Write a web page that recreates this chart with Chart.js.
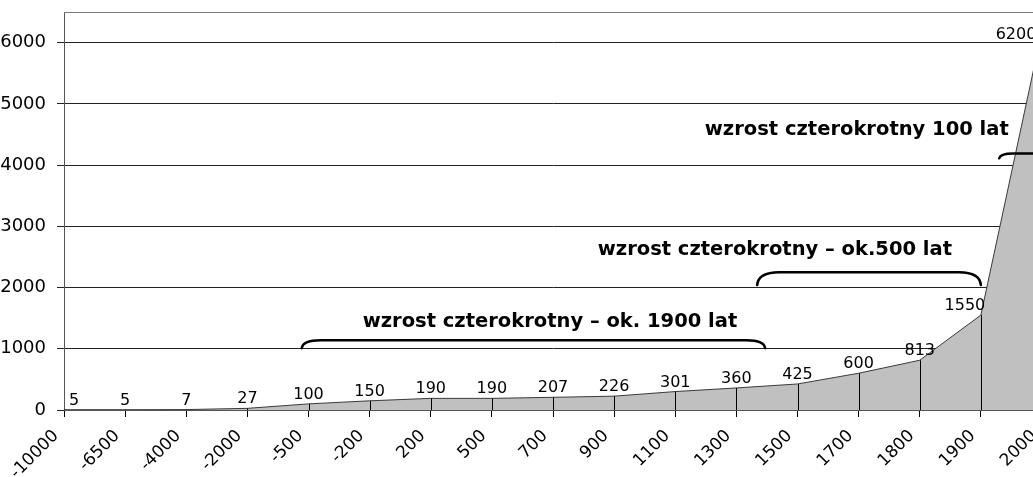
<!DOCTYPE html>
<html>
<head>
<meta charset="utf-8">
<script src="https://cdn.jsdelivr.net/npm/chart.js@4/dist/chart.umd.min.js"></script>
<style>
  html, body { margin:0; padding:0; background:#fff; overflow:hidden; width:1033px; height:477px; }
  #wrap { position:absolute; left:-20px; top:0; width:1100px; height:477px; }
</style>
</head>
<body>
<div id="wrap"><canvas id="c" width="1100" height="477"></canvas></div>
<script>
// ---- data ----
const years = ['-10000','-6500','-4000','-2000','-500','-200','200','500','700','900','1100','1300','1500','1700','1800','1900','2000'];
const population = [5,5,7,27,100,150,190,190,207,226,301,360,425,600,813,1550,6200];
const yTicks = [0,1000,2000,3000,4000,5000,6000];
const noteTexts = ['wzrost czterokrotny – ok. 1900 lat', 'wzrost czterokrotny – ok.500 lat', 'wzrost czterokrotny 100 lat'];
const noteFrom = [3.89, 11.34, 15.3];   // category index where bracket starts
const noteTo   = [11.47, 15.0, 16.6];   // category index where bracket ends
const noteTop  = [1140, 2250, 4190];    // bracket line level (value)
const noteFoot = [1010, 2040, 4110];    // bracket end level (value)
const noteTextX = [7.95, 11.63, 12.97]; // text centre (category index)
const noteTextY = [1435, 2610, 4567];   // text centre (value)

const FONT = '"DejaVu Sans", Verdana, sans-serif';

const frame = {
  id: 'frame',
  beforeDatasetsDraw(chart) {
    const {ctx, chartArea:a} = chart;
    ctx.save();
    ctx.strokeStyle = '#7a7a7a';
    ctx.lineWidth = 1;
    ctx.beginPath();
    ctx.moveTo(a.left, Math.round(a.top) + 0.5);
    ctx.lineTo(a.right, Math.round(a.top) + 0.5);
    ctx.stroke();
    ctx.restore();
  }
};

const dropLines = {
  id: 'dropLines',
  afterDatasetsDraw(chart) {
    const {ctx, chartArea:a} = chart;
    const meta = chart.getDatasetMeta(0);
    ctx.save();
    ctx.strokeStyle = '#000';
    ctx.lineWidth = 1;
    meta.data.forEach(p => {
      const x = Math.round(p.x) + 0.5;
      ctx.beginPath();
      ctx.moveTo(x, p.y);
      ctx.lineTo(x, a.bottom);
      ctx.stroke();
    });
    ctx.restore();
  }
};

const valueLabels = {
  id: 'valueLabels',
  afterDatasetsDraw(chart) {
    const {ctx} = chart;
    const meta = chart.getDatasetMeta(0);
    ctx.save();
    ctx.font = '16px ' + FONT;
    ctx.fillStyle = '#000';
    ctx.textAlign = 'center';
    ctx.textBaseline = 'alphabetic';
    meta.data.forEach((p, i) => {
      let x = p.x, y = p.y - 5;
      const last = meta.data.length - 1;
      if (i === 0) x += 10;
      if (i === last - 1) x -= 16;
      if (i === last) { x -= 26; y = p.y + 9; }
      ctx.fillText(String(population[i]), x, y);
    });
    ctx.restore();
  }
};

const notes = {
  id: 'notes',
  afterDatasetsDraw(chart) {
    const {ctx} = chart;
    const xs = chart.scales.x, ys = chart.scales.y;
    ctx.save();
    ctx.strokeStyle = '#000';
    ctx.lineWidth = 2.5;
    ctx.lineCap = 'round';
    noteTexts.forEach((t, i) => {
      const x0 = xs.getPixelForValue(noteFrom[i]);
      const x1 = xs.getPixelForValue(noteTo[i]);
      const yt = ys.getPixelForValue(noteTop[i]);
      const yb = ys.getPixelForValue(noteFoot[i]);
      const h = yb - yt;
      const r = Math.min(22, h * 1.6 + 6);
      ctx.beginPath();
      ctx.moveTo(x0, yb);
      ctx.quadraticCurveTo(x0 + 1, yt, x0 + r, yt);
      ctx.lineTo(x1 - r, yt);
      ctx.quadraticCurveTo(x1 - 1, yt, x1, yb);
      ctx.stroke();
      ctx.font = 'bold 19.5px ' + FONT;
      ctx.fillStyle = '#000';
      ctx.textAlign = 'center';
      ctx.textBaseline = 'middle';
      ctx.fillText(t, xs.getPixelForValue(noteTextX[i]), ys.getPixelForValue(noteTextY[i]));
    });
    ctx.restore();
  }
};

new Chart(document.getElementById('c'), {
  type: 'line',
  data: {
    labels: years,
    datasets: [{
      data: population,
      fill: 'origin',
      backgroundColor: '#c0c0c0',
      borderColor: '#3a3a3a',
      borderWidth: 1,
      pointRadius: 0,
      tension: 0
    }]
  },
  options: {
    responsive: false,
    animation: false,
    devicePixelRatio: 1,
    layout: { padding: { left: 0, right: 38, top: 12, bottom: 0 } },
    plugins: { legend: { display: false }, tooltip: { enabled: false }, title: { display: false } },
    scales: {
      x: {
        type: 'category',
        offset: false,
        afterFit(s) { s.height = 67; s.paddingLeft = 0; s.paddingRight = 0; },
        grid: { drawOnChartArea: false, drawTicks: true, tickLength: 7, color: '#000', lineWidth: 1 },
        border: { display: true, color: '#555', width: 1 },
        ticks: { autoSkip: false, maxRotation: 45, minRotation: 45, padding: 9, labelOffset: -8, color: '#000', font: { family: FONT, size: 17 } }
      },
      y: {
        min: 0,
        max: 6500,
        afterFit(s) { s.width = 84; s.paddingTop = 0; s.paddingBottom = 0; },
        afterBuildTicks(s) { s.ticks = yTicks.map(v => ({ value: v })); },
        grid: { color: '#222', lineWidth: 1, drawTicks: true, tickLength: 7 },
        border: { display: true, color: '#555', width: 1 },
        ticks: { padding: 11, color: '#000', font: { family: FONT, size: 18 }, callback: v => String(v) }
      }
    }
  },
  plugins: [frame, dropLines, valueLabels, notes]
});
</script>
</body>
</html>
